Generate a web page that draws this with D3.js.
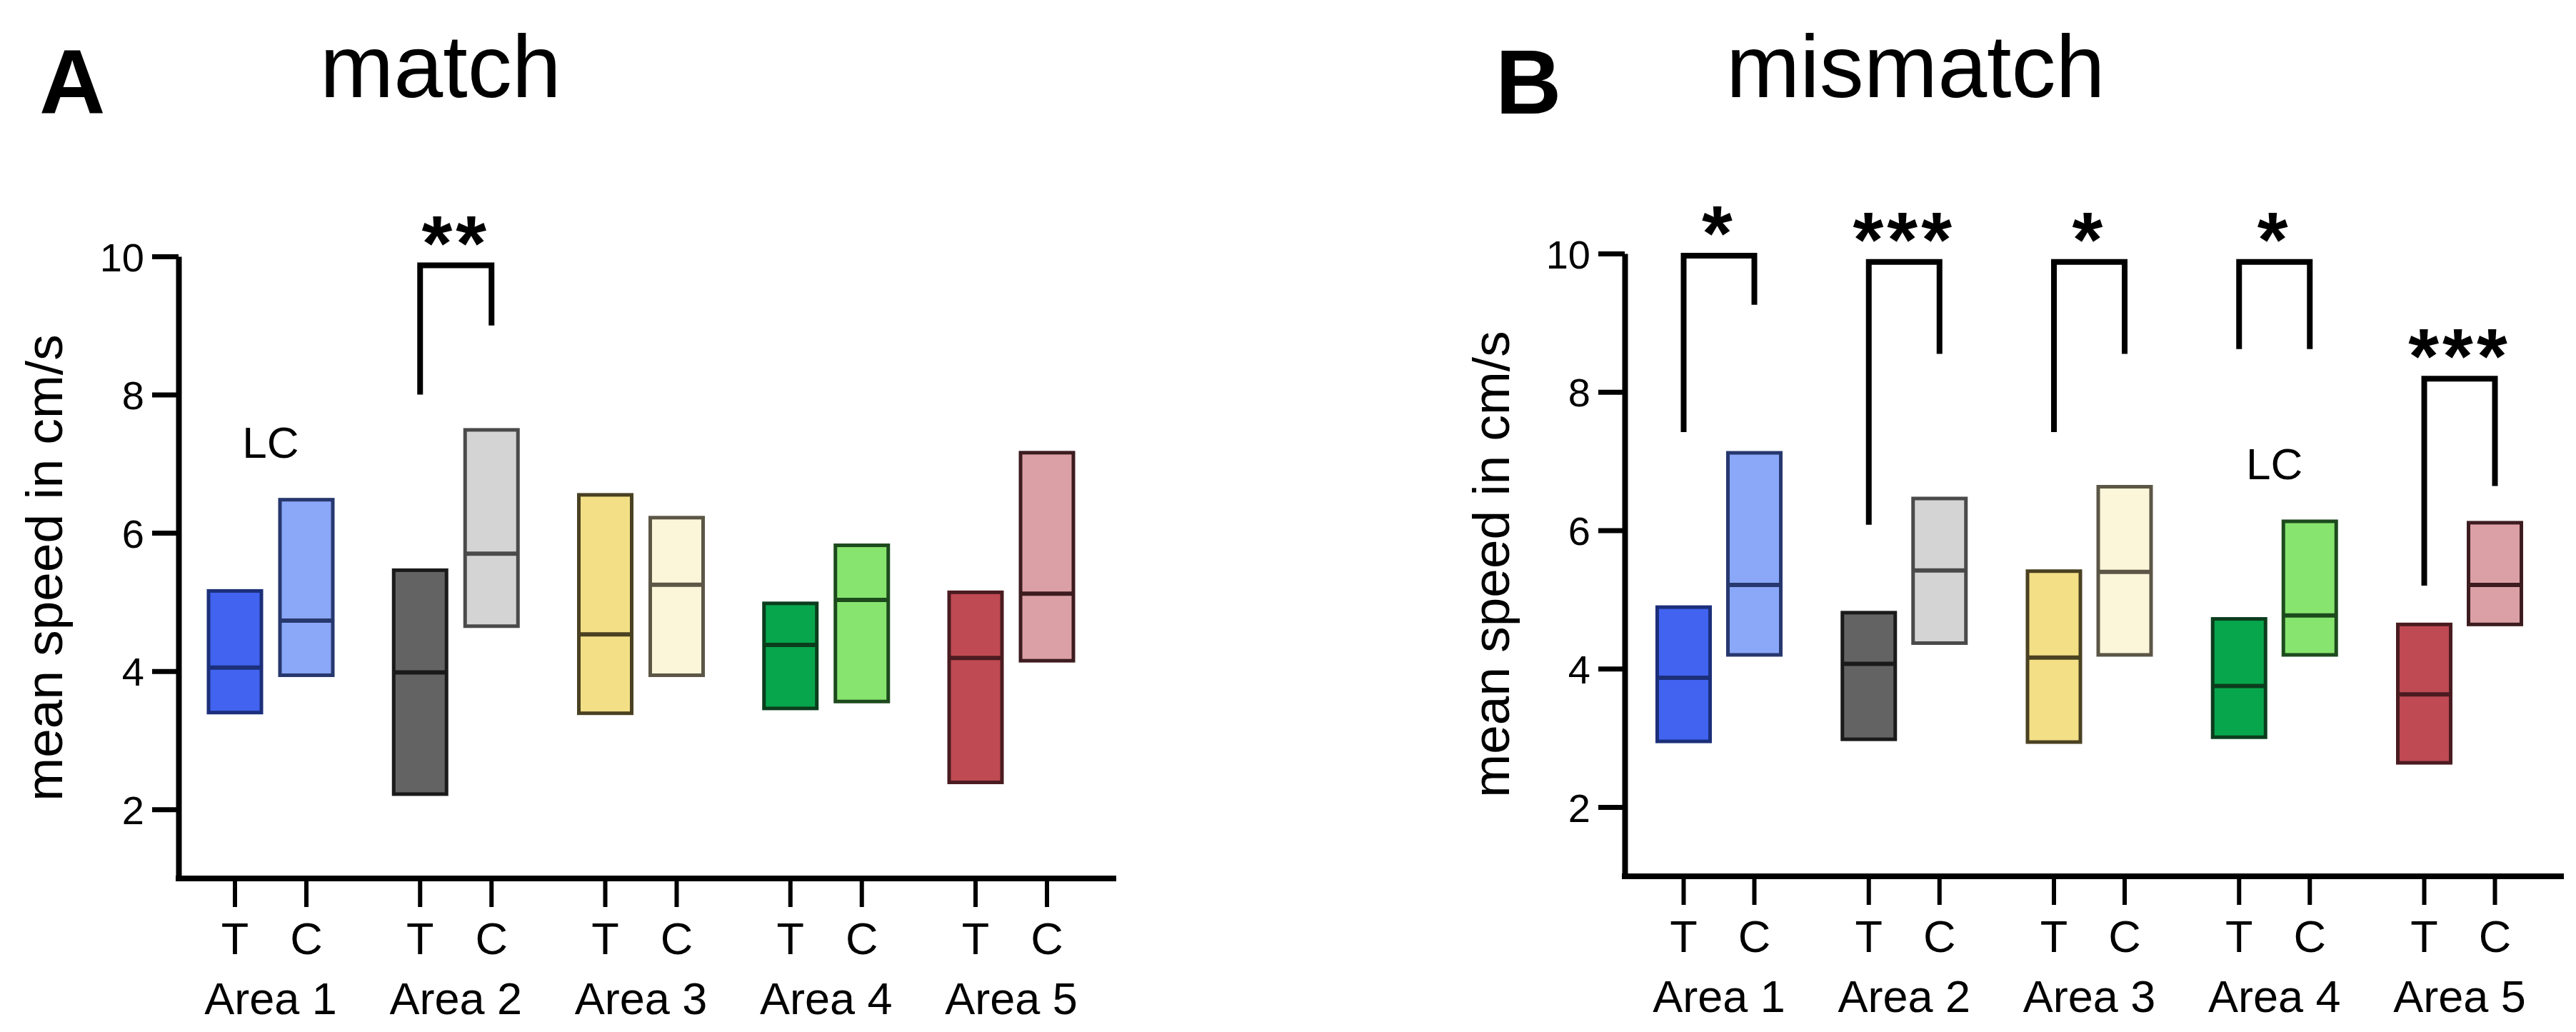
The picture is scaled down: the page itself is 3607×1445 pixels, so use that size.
<!DOCTYPE html>
<html>
<head>
<meta charset="utf-8">
<script src="https://cdn.jsdelivr.net/npm/d3@7"></script>
<style>
  body { margin: 0; background: #fff; }
  text { font-family: "Liberation Sans", Arial, sans-serif; fill: #000; }
</style>
</head>
<body>
<div id="chart"></div>
<script>
// categories
var areas = ["Area 1", "Area 2", "Area 3", "Area 4", "Area 5"];
var groups = ["T", "C"];
var yTicks = [2, 4, 6, 8, 10];

// colours per area, T then C
var fillT = ["#4163f0", "#636363", "#f3df86", "#07a64d", "#bf4a53"];
var fillC = ["#8aa7f8", "#d4d4d4", "#fbf5d9", "#87e46f", "#dba0a6"];
var lineT = ["#1c2f7a", "#1a1a1a", "#4a4122", "#0b3d1d", "#4a1b20"];
var lineC = ["#27386e", "#4a4a4a", "#5b5646", "#1d4a1d", "#3d1c20"];

// match panel: T1,C1,T2,C2,... (low, median, high)
var matchLow = [3.40, 3.94, 2.22, 4.65, 3.39, 3.94, 3.46, 3.56, 2.39, 4.15];
var matchMed = [4.05, 4.73, 3.98, 5.70, 4.53, 5.25, 4.38, 5.03, 4.19, 5.12];
var matchHigh = [5.16, 6.48, 5.46, 7.49, 6.55, 6.22, 4.98, 5.82, 5.14, 7.16];

// mismatch panel
var misLow = [2.95, 4.20, 2.98, 4.37, 2.94, 4.20, 3.01, 4.20, 2.64, 4.64];
var misMed = [3.87, 5.21, 4.07, 5.42, 4.16, 5.40, 3.75, 4.77, 3.63, 5.21];
var misHigh = [4.89, 7.12, 4.81, 6.46, 5.41, 6.63, 4.72, 6.13, 4.64, 6.11];

// significance brackets: area, top, left end, right end, label
var matchSig = [["Area 2", 9.87, 8.0, 9.0, "**"]];
var misSig = [
  ["Area 1", 9.97, 7.42, 9.26, "*"],
  ["Area 2", 9.88, 6.08, 8.55, "***"],
  ["Area 3", 9.88, 7.42, 8.55, "*"],
  ["Area 4", 9.88, 8.62, 8.62, "*"],
  ["Area 5", 8.19, 5.20, 6.64, "***"]
];

// "LC" notes
var matchNote = ["Area 1", 7.09];
var misNote = ["Area 4", 6.74];

var W = 3607, H = 1445;
var svg = d3.select("#chart").append("svg")
  .attr("width", W).attr("height", H);
svg.append("rect").attr("width", W).attr("height", H).attr("fill", "#fff");

function panel(cfg) {
  var g = svg.append("g");

  var y = d3.scaleLinear().domain([1, 10]).range([cfg.yBottom, cfg.yTop]);
  var xArea = d3.scalePoint().domain(areas).range(cfg.areaRange);
  var xGroup = d3.scalePoint().domain(groups).range([-cfg.half, cfg.half]);

  var rows = [];
  areas.forEach(function(a, i) {
    groups.forEach(function(s, j) {
      var k = i * 2 + j;
      rows.push({
        area: a, grp: s,
        lo: cfg.low[k], med: cfg.med[k], hi: cfg.high[k],
        fill: j == 0 ? fillT[i] : fillC[i],
        line: j == 0 ? lineT[i] : lineC[i]
      });
    });
  });
  var cx = function(d) { return xArea(d.area) + xGroup(d.grp); };
  var bw = 74;

  // boxes
  g.selectAll("rect.box").data(rows).enter().append("rect")
    .attr("class", "box")
    .attr("x", function(d) { return cx(d) - bw / 2; })
    .attr("y", function(d) { return y(d.hi); })
    .attr("width", bw)
    .attr("height", function(d) { return y(d.lo) - y(d.hi); })
    .attr("fill", function(d) { return d.fill; })
    .attr("stroke", function(d) { return d.line; })
    .attr("stroke-width", 5);

  g.selectAll("line.med").data(rows).enter().append("line")
    .attr("class", "med")
    .attr("x1", function(d) { return cx(d) - bw / 2; })
    .attr("x2", function(d) { return cx(d) + bw / 2; })
    .attr("y1", function(d) { return y(d.med); })
    .attr("y2", function(d) { return y(d.med); })
    .attr("stroke", function(d) { return d.line; })
    .attr("stroke-width", 6);

  // y axis
  var yAxis = g.append("g")
    .attr("transform", "translate(" + cfg.axisX + ",0)")
    .call(d3.axisLeft(y).tickValues(yTicks).tickSize(37).tickSizeOuter(0).tickPadding(11));
  yAxis.select(".domain").attr("stroke", "#000").attr("stroke-width", 8);
  yAxis.selectAll(".tick line").attr("stroke", "#000").attr("stroke-width", 7);
  yAxis.selectAll(".tick text")
    .attr("font-size", 56).attr("font-family", "Liberation Sans, Arial, sans-serif")
    .attr("fill", "#000").attr("dy", "0.36em");

  // x axis line
  g.append("line")
    .attr("x1", cfg.axisX - 4).attr("x2", cfg.xEnd)
    .attr("y1", y(1)).attr("y2", y(1))
    .attr("stroke", "#000").attr("stroke-width", 8);

  g.selectAll("line.xt").data(rows).enter().append("line")
    .attr("class", "xt")
    .attr("x1", cx).attr("x2", cx)
    .attr("y1", y(1)).attr("y2", y(1) + 40)
    .attr("stroke", "#000").attr("stroke-width", 6);

  g.selectAll("text.grp").data(rows).enter().append("text")
    .attr("class", "grp")
    .attr("x", cx).attr("y", y(1) + 106)
    .attr("text-anchor", "middle").attr("font-size", 63)
    .text(function(d) { return d.grp; });

  g.selectAll("text.area").data(areas).enter().append("text")
    .attr("class", "area")
    .attr("x", function(d) { return xArea(d); }).attr("y", y(1) + 190)
    .attr("text-anchor", "middle").attr("font-size", 63)
    .text(function(d) { return d; });

  // y label
  g.append("text")
    .attr("transform", "translate(" + cfg.labelX + "," + cfg.labelY + ") rotate(-90)")
    .attr("text-anchor", "middle").attr("font-size", 73)
    .text("mean speed in cm/s");

  // significance brackets
  cfg.sig.forEach(function(s) {
    var xl = xArea(s[0]) + xGroup("T"), xr = xArea(s[0]) + xGroup("C");
    g.append("path")
      .attr("d", "M" + xl + "," + y(s[2]) + "V" + y(s[1]) + "H" + xr + "V" + y(s[3]))
      .attr("fill", "none").attr("stroke", "#000").attr("stroke-width", 8)
      .attr("stroke-linejoin", "miter");
    g.append("text")
      .attr("x", (xl + xr) / 2).attr("y", y(s[1]) + 6)
      .attr("text-anchor", "middle").attr("font-size", 110).attr("font-weight", "bold")
      .attr("letter-spacing", 5)
      .text(s[4]);
  });

  // LC note
  g.append("text")
    .attr("x", xArea(cfg.note[0])).attr("y", y(cfg.note[1]))
    .attr("text-anchor", "middle").attr("font-size", 62).attr("fill", "#222")
    .text("LC");

  // panel letter and title
  g.append("text").attr("x", cfg.letterX).attr("y", 159)
    .attr("font-size", 128).attr("font-weight", "bold").text(cfg.letter);
  g.append("text").attr("x", cfg.titleX).attr("y", 136)
    .attr("font-size", 124).text(cfg.title);
}

panel({
  low: matchLow, med: matchMed, high: matchHigh,
  yTop: 359, yBottom: 1230, axisX: 250, xEnd: 1563,
  areaRange: [379, 1416], half: 50,
  labelX: 87, labelY: 795,
  sig: matchSig, note: matchNote,
  letter: "A", letterX: 55, title: "match", titleX: 448
});

panel({
  low: misLow, med: misMed, high: misHigh,
  yTop: 355, yBottom: 1227, axisX: 2275, xEnd: 3590,
  areaRange: [2407, 3444], half: 49.5,
  labelX: 2113, labelY: 790,
  sig: misSig, note: misNote,
  letter: "B", letterX: 2094, title: "mismatch", titleX: 2417
});
</script>
</body>
</html>
